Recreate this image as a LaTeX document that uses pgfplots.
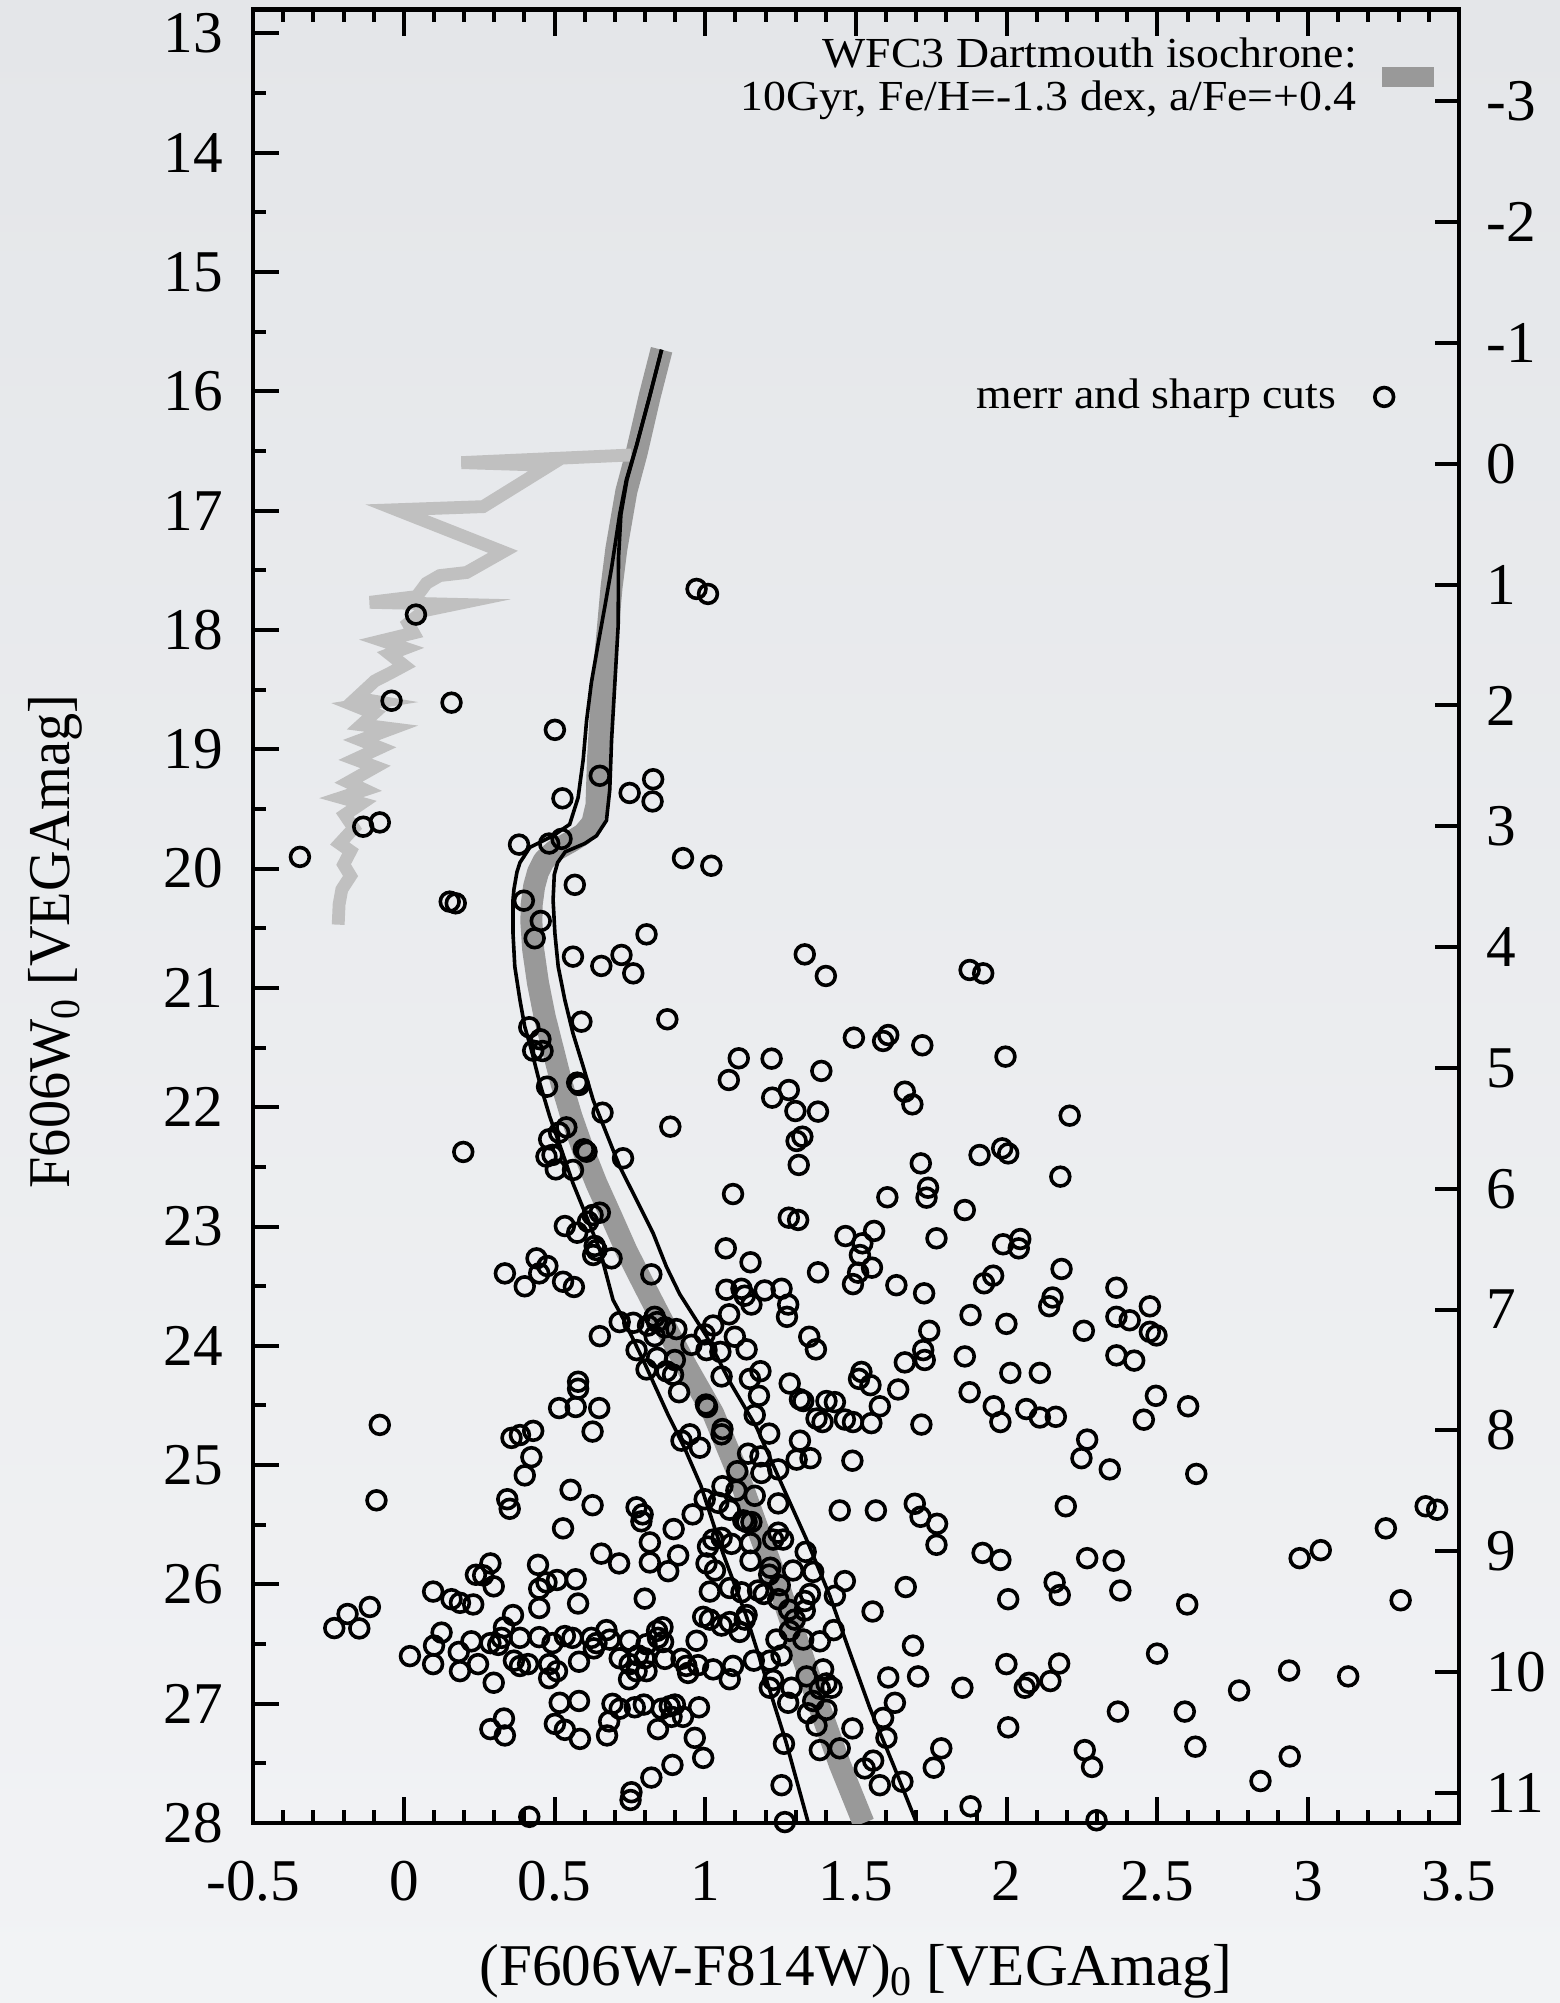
\documentclass[border=0pt]{standalone}
\usepackage{fontspec}
\setmainfont{Liberation Serif}
\newfontfamily\legfont{Liberation Serif}[FakeStretch=1.07]
\newfontfamily\ylabfont{Liberation Serif}[FakeStretch=0.95]
\usepackage{pgfplots}
\pgfplotsset{compat=1.18}
\definecolor{bgtop}{RGB}{228,230,233}
\definecolor{bgbot}{RGB}{242,243,245}
\definecolor{iso}{RGB}{153,153,153}
\definecolor{ridge}{RGB}{192,192,192}
\newcommand\sub[1]{\raisebox{-2.5pt}{\fontsize{10.5}{10}\selectfont #1}}
\newcommand\bigfont{\fontsize{14.8}{16}\selectfont}
\pgfplotsset{
  dotlegend/.style={legend image code/.code={\draw[##1] plot coordinates {(0pt,0pt)};}},
  barlegend/.style={legend image code/.code={\draw[##1] (0pt,0pt) -- (13pt,0pt);}},
}
\begin{document}
\begin{tikzpicture}
\useasboundingbox (-63.3pt,-45pt) rectangle (326.7pt,455.75pt);
\shade[top color=bgtop, bottom color=bgbot] (-63.3pt,-45pt) rectangle (326.7pt,455.75pt);
\begin{axis}[
  at={(0,0)}, anchor=south west,
  scale only axis, width=301.4pt, height=453.35pt,
  xmin=-0.5, xmax=3.5, ymin=12.8, ymax=28, y dir=reverse,
  xtick={-0.5,0,0.5,1,1.5,2,2.5,3,3.5},
  xticklabels={-0.5,0,0.5,1,1.5,2,2.5,3,3.5},
  minor x tick num=4,
  ytick={13,14,15,16,17,18,19,20,21,22,23,24,25,26,27,28},
  yticklabels={13,14,15,16,17,18,19,20,21,22,23,24,25,26,27,28},
  minor y tick num=1,
  tick align=inside, xtick pos=both, ytick pos=left,
  major tick length=6.5pt, minor tick length=3.2pt,
  every tick/.style={black, line width=1pt},
  axis line style={line width=1.1pt},
  tick label style={font=\bigfont},
  xticklabel style={yshift=-6pt},
  yticklabel style={xshift=-4pt},
  xlabel={(F606W-F814W)\sub{0} [VEGAmag]},
  ylabel={F606W\sub{0} [VEGAmag]},
  every axis x label/.style={at={(axis description cs:0.5,-0.0895)}, anchor=base, font=\bigfont},
  every axis y label/.style={at={(axis description cs:-0.152,0.486)}, rotate=90, anchor=base, font=\ylabfont\bigfont},
  legend style={draw=none, fill=none, inner sep=0pt, column sep=9.6pt, nodes={inner sep=0pt},
    at={(axis description cs:0.9466,0.7864)}, anchor=east,
    font=\legfont\fontsize{10.7}{10.75}\selectfont},
  legend plot pos=right, legend cell align=right,
]
% isochrone band
\addplot[iso, line width=5.5pt, line join=round, forget plot] coordinates {
(0.855,15.651)(0.816,16.036)(0.772,16.517)(0.738,16.838)(0.705,17.319)(0.689,17.640)
(0.672,18.121)(0.655,18.603)(0.644,19.084)(0.639,19.469)(0.625,19.62)(0.595,19.71)
(0.55,19.78)(0.50,19.85)(0.465,19.93)(0.445,20.03)(0.432,20.15)(0.424,20.30)(0.423,20.45)
(0.429,20.68)(0.445,20.96)(0.467,21.24)(0.495,21.52)(0.523,21.80)(0.556,22.08)(0.595,22.36)
(0.639,22.64)(0.689,22.92)(0.738,23.20)(0.794,23.48)(0.851,23.76)(0.937,24.17)(1.026,24.566)
(1.103,25.036)(1.170,25.507)(1.247,26.036)(1.314,26.536)(1.380,27.036)(1.446,27.507)(1.525,28.0)};
% light ridge line
\addplot[ridge, line width=3.2pt, line join=miter, forget plot] coordinates {
(0.755,16.533)(0.191,16.597)(0.484,16.620)(0.263,16.966)(-0.025,16.992)(0.329,17.345)
(0.208,17.518)(0.119,17.544)(0.075,17.608)(0.042,17.720)(-0.113,17.768)(0.169,17.785)
(0.066,17.839)(0.014,17.945)(0.032,18.025)(-0.072,18.089)(0.004,18.153)(-0.047,18.202)
(0.001,18.298)(-0.046,18.362)(-0.096,18.426)(-0.158,18.571)(-0.083,18.603)(-0.162,18.635)
(-0.099,18.699)(-0.141,18.795)(-0.041,18.827)(-0.143,18.923)(-0.079,18.987)(-0.162,19.084)
(-0.094,19.148)(-0.184,19.276)(-0.130,19.340)(-0.208,19.405)(-0.140,19.453)(-0.196,19.549)
(-0.166,19.661)(-0.213,19.790)(-0.177,19.854)(-0.200,19.966)(-0.177,20.062)(-0.206,20.175)
(-0.215,20.30)(-0.218,20.47)};
% envelope lines
\addplot[black, line width=0.9pt, forget plot] coordinates {
(0.855,15.651)(0.816,16.036)(0.772,16.453)(0.738,16.742)(0.716,17.031)(0.689,17.480)
(0.667,17.800)(0.644,18.121)(0.622,18.442)(0.606,18.763)(0.595,19.084)(0.578,19.405)
(0.550,19.629)(0.495,19.725)(0.418,19.822)(0.385,19.950)(0.375,20.03)(0.365,20.175)
(0.362,20.263)(0.362,20.543)(0.368,20.822)(0.385,21.101)(0.401,21.325)(0.423,21.520)
(0.451,21.800)(0.484,22.079)(0.523,22.359)(0.561,22.638)(0.606,22.917)(0.650,23.197)
(0.694,23.616)(0.727,23.77)(0.794,24.12)(0.875,24.57)(0.93,24.85)(0.985,25.17)
(1.059,25.742)(1.137,26.272)(1.203,26.801)(1.269,27.330)(1.341,27.992)};
\addplot[black, line width=0.9pt, forget plot] coordinates {
(0.855,15.651)(0.816,16.036)(0.772,16.453)(0.740,16.742)(0.720,17.031)(0.712,17.40)
(0.711,17.961)(0.700,18.442)(0.689,18.923)(0.683,19.340)(0.672,19.597)(0.639,19.725)
(0.600,19.79)(0.535,19.86)(0.510,19.95)(0.499,20.05)(0.495,20.263)(0.501,20.543)
(0.512,20.822)(0.534,21.101)(0.561,21.381)(0.595,21.660)(0.628,21.940)(0.672,22.219)
(0.716,22.498)(0.772,22.778)(0.827,23.057)(0.871,23.337)(0.915,23.566)(1.004,23.919)
(1.081,24.301)(1.170,24.683)(1.247,25.124)(1.336,25.624)(1.413,26.095)(1.479,26.566)
(1.546,27.036)(1.623,27.507)(1.700,27.992)};
% stars
\addplot[only marks, mark=o, mark size=2.35pt, black, mark options={line width=0.9pt}, dotlegend] coordinates {
(0.971,17.656)(1.009,17.698)(0.040,17.871)(-0.041,18.593)(0.158,18.609)(0.501,18.837)
(0.650,19.222)(0.827,19.251)(0.749,19.366)(0.825,19.437)(0.526,19.411)(-0.135,19.649)
(-0.080,19.613)(-0.345,19.902)(0.382,19.799)(0.482,19.790)(0.523,19.751)(0.926,19.912)
(1.020,19.976)(0.567,20.136)
(0.152,20.277)(0.172,20.291)(0.398,20.269)(0.454,20.439)(0.434,20.584)(0.805,20.551)
(0.561,20.738)(0.655,20.816)(0.722,20.724)(0.761,20.878)(0.874,21.263)(0.589,21.283)
(0.416,21.330)(0.453,21.431)(0.429,21.526)(0.460,21.529)(0.475,21.828)(0.575,21.794)
(0.581,21.814)(0.659,22.046)(0.884,22.163)(0.539,22.169)(0.515,22.213)(0.482,22.269)
(0.473,22.414)(0.493,22.400)(0.597,22.353)(0.606,22.373)(0.197,22.375)(0.504,22.521)
(0.561,22.526)(0.727,22.428)(0.650,22.884)(0.626,22.904)(0.611,22.959)(0.534,22.996)
(0.575,23.052)(0.633,23.163)(0.628,23.239)(0.639,23.197)(0.689,23.267)(0.440,23.267)
(0.476,23.331)(0.449,23.393)(0.335,23.393)(0.821,23.401)
(1.330,20.719)(1.400,20.900)(1.877,20.850)(1.922,20.878)(1.493,21.417)(1.590,21.445)
(1.607,21.395)(1.720,21.481)(1.996,21.576)(1.111,21.590)(1.220,21.593)(1.078,21.772)
(1.385,21.696)(1.662,21.870)(1.687,21.976)(1.277,21.856)(1.222,21.920)(1.299,22.032)
(1.374,22.037)(2.209,22.071)(1.322,22.247)(1.303,22.283)(1.310,22.484)(1.910,22.401)
(1.985,22.345)(2.005,22.387)(1.715,22.471)(2.178,22.582)(1.092,22.728)(1.604,22.755)
(1.739,22.675)(1.734,22.758)(1.861,22.862)(1.277,22.926)(1.308,22.945)(1.465,23.080)
(1.560,23.037)(1.521,23.141)(1.513,23.239)(1.553,23.345)(1.507,23.387)(1.767,23.099)
(1.988,23.149)(2.045,23.105)(2.040,23.183)(2.182,23.356)(1.955,23.412)(1.068,23.183)
(1.150,23.300)(1.374,23.384)(1.925,23.476)
(0.401,23.501)(0.528,23.463)(0.564,23.507)(0.650,23.919)(0.716,23.801)(0.761,23.807)
(0.810,23.830)(0.832,23.757)(0.840,23.801)(0.866,23.845)(0.832,23.919)(0.904,23.860)
(0.954,23.992)(0.772,24.036)(0.840,24.101)(0.805,24.198)(0.871,24.213)(0.899,24.119)
(0.893,24.242)(0.913,24.389)(0.578,24.301)(0.578,24.360)(0.515,24.522)(0.570,24.513)
(0.648,24.522)(0.626,24.719)(-0.080,24.663)(0.357,24.772)(0.385,24.748)(0.429,24.713)
(0.423,24.933)(0.401,25.086)(-0.091,25.295)(0.343,25.286)(0.351,25.366)(0.553,25.207)
(0.626,25.336)(0.528,25.530)(0.772,25.354)(0.792,25.413)(0.788,25.471)(0.895,25.536)
(0.816,25.648)(0.921,24.795)(0.655,25.742)(0.714,25.824)(0.816,25.816)(0.877,25.889)
(0.910,25.757)(0.799,26.119)(0.445,25.836)(0.239,25.919)(0.287,25.824)(0.263,25.924)
(0.298,26.016)(0.449,26.036)(0.473,25.983)(0.508,25.963)(0.570,25.957)(0.449,26.198)
(0.578,26.160)(0.097,26.060)(0.158,26.124)(0.186,26.154)(0.230,26.168)(-0.113,26.189)
(-0.187,26.248)(-0.231,26.366)(-0.148,26.369)(0.362,26.257)(0.332,26.360)(0.125,26.404)
(0.100,26.513)(0.020,26.601)(0.097,26.668)(0.182,26.566)(0.186,26.727)(0.224,26.477)
(0.246,26.668)(0.287,26.492)(0.313,26.507)(0.324,26.448)(0.385,26.448)(0.298,26.824)
(0.365,26.639)(0.385,26.684)(0.412,26.668)(0.449,26.442)(0.493,26.492)(0.534,26.433)
(0.559,26.448)(0.482,26.668)(0.508,26.727)(0.482,26.786)(0.581,26.648)(0.622,26.448)
(0.639,26.492)(0.672,26.383)(0.683,26.463)(0.749,26.472)(0.630,26.536)(0.716,26.619)
(0.777,26.595)(0.805,26.501)(0.840,26.389)(0.858,26.359)(0.843,26.448)(0.860,26.483)
(0.799,26.619)(0.866,26.624)(0.749,26.668)(0.772,26.727)(0.805,26.727)(0.747,26.795)
(0.921,26.624)(0.937,26.683)(0.943,26.742)(0.517,26.992)(0.581,26.977)(0.692,27.001)
(0.716,27.042)(0.766,27.030)(0.796,27.007)(0.855,27.042)(0.882,27.021)(0.899,27.007)
(0.888,27.110)(0.926,27.110)(0.979,27.030)(0.681,27.148)(0.674,27.266)(0.843,27.213)
(0.965,27.286)(0.501,27.169)(0.534,27.219)(0.584,27.295)(0.287,27.213)(0.332,27.124)
(0.335,27.266)(0.891,27.513)(0.821,27.619)(0.755,27.742)(0.752,27.807)(0.416,27.948)
(0.993,27.454)
(1.070,23.530)(1.120,23.522)(1.131,23.580)(1.153,23.654)(1.197,23.536)(1.253,23.522)
(1.275,23.654)(1.271,23.757)(1.079,23.736)(1.026,23.830)(0.998,23.904)(1.004,24.036)
(1.050,24.051)(1.098,23.924)(1.137,24.030)(1.054,24.257)(1.148,24.277)(1.183,24.213)
(1.178,24.419)(1.164,24.580)(1.002,24.492)(1.006,24.513)(1.057,24.698)(1.054,24.742)
(0.949,24.742)(0.982,24.854)(1.212,24.736)(1.142,24.904)(1.183,24.927)(1.242,25.036)
(1.186,25.066)(1.106,25.051)(1.057,25.177)(1.103,25.213)(1.164,25.257)(0.998,25.286)
(1.043,25.316)(1.081,25.374)(0.958,25.413)(1.126,25.463)(1.153,25.477)(1.137,25.477)
(1.242,25.321)(1.280,24.316)(1.314,24.448)(1.325,24.463)(1.402,24.463)(1.430,24.472)
(1.369,24.610)(1.389,24.639)(1.463,24.618)(1.490,24.639)(1.551,24.648)(1.579,24.507)
(1.345,23.924)(1.367,24.030)(1.314,24.795)(1.303,24.954)(1.349,24.942)(1.488,24.963)
(1.518,24.219)(1.510,24.277)(1.548,24.330)(1.640,24.366)(1.662,24.139)(1.723,24.036)
(1.728,24.119)(1.743,23.874)(1.717,24.660)(1.634,23.492)(1.726,23.560)(1.490,23.483)
(1.861,24.089)(1.877,24.389)(1.880,23.742)(1.999,23.816)(1.957,24.507)(1.979,24.639)
(2.012,24.227)(2.110,24.227)(2.065,24.530)(2.110,24.601)(2.163,24.595)(2.141,23.668)
(2.152,23.595)(2.256,23.874)(2.364,23.513)(2.364,23.757)(2.364,24.080)(2.267,24.786)
(2.248,24.942)(2.342,25.036)(1.446,25.380)(1.566,25.380)(1.695,25.324)(1.714,25.433)
(1.769,25.492)(1.767,25.668)(2.196,25.345)(1.920,25.736)(1.979,25.795)(2.267,25.780)
(2.355,25.801)(2.159,25.983)(2.176,26.089)(2.377,26.051)(2.005,26.124)(1.665,26.022)
(1.555,26.227)(1.463,25.972)(1.430,26.095)(1.333,25.727)(1.358,25.895)(1.347,26.080)
(1.291,25.883)(1.242,25.566)(1.258,25.624)(1.225,25.624)(1.150,25.654)(1.087,25.660)
(1.026,25.624)(1.009,25.683)(1.054,25.610)(1.004,25.824)(1.032,25.883)(1.015,26.060)
(1.150,25.801)(1.216,25.860)(1.212,25.918)(1.247,26.007)(1.081,26.030)(1.120,26.066)
(1.175,26.051)(1.194,26.080)(1.242,26.124)(1.330,26.139)(1.278,26.213)(1.297,26.295)
(1.330,26.219)(0.993,26.272)(1.015,26.295)(1.054,26.345)(1.081,26.316)(1.114,26.398)
(1.137,26.257)(1.131,26.295)(1.280,26.389)(1.325,26.462)(1.380,26.477)(1.426,26.383)
(1.236,26.462)(1.214,26.639)(1.253,26.595)(1.161,26.639)(0.971,26.472)(0.976,26.677)
(1.026,26.712)(1.092,26.683)(1.081,26.795)(1.391,26.712)(1.336,26.771)(1.402,26.830)
(1.419,26.866)(1.380,26.874)(1.225,26.801)(1.214,26.866)(1.286,26.866)(1.275,26.992)
(1.358,26.977)(1.402,27.051)(1.341,27.080)(1.369,27.183)(1.607,26.780)(1.706,26.771)
(1.689,26.513)(1.629,26.992)(1.590,27.119)(1.488,27.207)(1.601,27.286)(1.446,27.374)
(1.380,27.389)(1.261,27.336)(1.253,27.683)(1.264,27.992)(1.557,27.477)(1.529,27.542)
(1.579,27.683)(1.654,27.654)(1.783,27.374)(1.758,27.536)(1.853,26.866)(1.999,26.668)
(2.060,26.866)(2.074,26.825)(2.145,26.810)(2.174,26.663)(2.005,27.198)(1.880,27.860)
(2.369,27.066)(2.259,27.389)(2.283,27.530)(2.298,27.977)
(2.475,23.669)(2.408,23.786)(2.475,23.883)(2.497,23.913)(2.423,24.124)(2.495,24.419)
(2.455,24.619)(2.602,24.507)(2.629,25.074)(3.390,25.345)(3.428,25.374)(3.258,25.530)
(3.042,25.713)(2.972,25.780)(2.599,26.168)(3.307,26.133)(2.499,26.580)(2.771,26.889)
(2.937,26.722)(3.133,26.771)(2.591,27.066)(2.626,27.360)(2.939,27.442)(2.842,27.648)};
\addlegendentry{merr and sharp cuts}
\end{axis}
\begin{axis}[
  at={(0,0)}, anchor=south west,
  scale only axis, width=301.4pt, height=453.35pt,
  xmin=-0.5, xmax=3.5, ymin=-3.76, ymax=11.25, y dir=reverse,
  hide x axis, axis line style={draw=none},
  ytick={-3,-2,-1,0,1,2,3,4,5,6,7,8,9,10,11},
  yticklabels={-3,-2,-1,0,1,2,3,4,5,6,7,8,9,10,11},
  ytick pos=right, tick align=inside, major tick length=6pt,
  every tick/.style={black, line width=1pt},
  tick label style={font=\bigfont},
  yticklabel style={anchor=west, xshift=3.5pt},
  legend style={draw=none, fill=none, inner sep=0pt, column sep=3.8pt, nodes={inner sep=0pt},
    at={(axis description cs:0.9885,0.9628)}, anchor=east,
    font=\legfont\fontsize{10.7}{10.75}\selectfont, cells={align=right}},
  legend plot pos=right, legend cell align=right,
]
\addlegendimage{iso, line width=5pt, barlegend}
\addlegendentry{WFC3 Dartmouth isochrone:\\10Gyr, Fe/H=-1.3 dex, a/Fe=+0.4}
\end{axis}
\end{tikzpicture}
\end{document}
